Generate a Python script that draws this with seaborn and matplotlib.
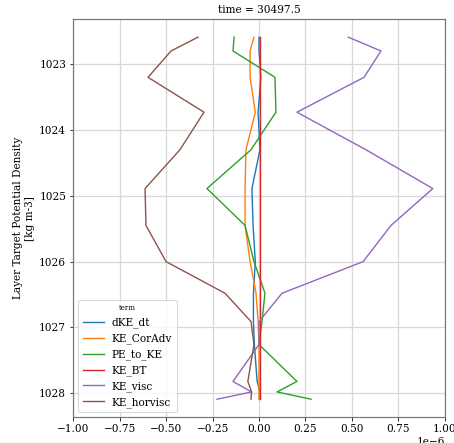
import numpy as np
import pandas as pd
import matplotlib
matplotlib.use("Agg")
import matplotlib.pyplot as plt
import seaborn as sns

rho = [1022.59, 1022.80, 1023.20, 1023.73, 1024.30, 1024.89, 1025.45,
       1026.00, 1026.48, 1026.91, 1027.26, 1027.82, 1027.98, 1028.09]

dKE_dt = [0.0, 0.0, 0.01, -0.005, 0.005, -0.038, -0.032,
          -0.02, -0.03, -0.03, -0.025, -0.01, 0.005, 0.005]
KE_CorAdv = [-0.027, -0.048, -0.048, -0.02, -0.07, -0.075, -0.075,
             -0.048, -0.016, -0.005, 0.0, 0.0, 0.0, 0.0]
PE_to_KE = [-0.134, -0.14, 0.086, 0.091, -0.043, -0.28, -0.075,
            -0.027, 0.032, 0.016, 0.0, 0.204, 0.097, 0.28]
KE_BT = [0.004, 0.004, 0.004, 0.004, 0.004, 0.004, 0.004,
         0.004, 0.004, 0.004, 0.004, 0.004, 0.004, 0.004]
KE_visc = [0.48, 0.656, 0.565, 0.204, 0.575, 0.935, 0.71,
           0.56, 0.124, 0.0, 0.0, -0.14, -0.04, -0.226]
KE_horvisc = [-0.328, -0.473, -0.597, -0.296, -0.425, -0.613, -0.608,
              -0.5, -0.183, -0.043, -0.027, -0.06, -0.04, -0.043]

terms = ["dKE_dt", "KE_CorAdv", "PE_to_KE", "KE_BT", "KE_visc", "KE_horvisc"]
series = [dKE_dt, KE_CorAdv, PE_to_KE, KE_BT, KE_visc, KE_horvisc]

rows = []
for t, vals in zip(terms, series):
    for r, v in zip(rho, vals):
        rows.append({"term": t, "rho": r, "value": v * 1e-6})
df = pd.DataFrame(rows)

plt.rcParams["font.family"] = ["DejaVu Serif"]
DPI = 72
fig = plt.figure(figsize=(454 / DPI, 443 / DPI), dpi=DPI)
ax = fig.add_axes([0.161, 0.058, 0.819, 0.899])

sns.lineplot(data=df, x="value", y="rho", hue="term", hue_order=terms,
             palette="tab10", orient="y", sort=False, lw=1.4, ax=ax)

ax.set_xlim(-1e-6, 1e-6)
ax.invert_yaxis()
ax.set_yticks([1023, 1024, 1025, 1026, 1027, 1028])
ax.set_xticks(np.arange(-1.0, 1.01, 0.25) * 1e-6)
ax.grid(True, color="#d8d8d8", lw=1.3)
ax.set_axisbelow(True)
for s in ax.spines.values():
    s.set_color("#777777")
    s.set_linewidth(1.2)
ax.set_xlabel("")
ax.set_ylabel("Layer Target Potential Density\n[kg m-3]", fontsize=10.5)
ax.set_title("time = 30497.5", fontsize=10.5)
ax.tick_params(labelsize=10.5)
ax.xaxis.get_offset_text().set_fontsize(10.5)

leg = ax.legend(title="term", loc="lower left", fontsize=10.5, title_fontsize=7,
                handlelength=2.0, framealpha=0.8)

fig.savefig("out.png", dpi=DPI)
